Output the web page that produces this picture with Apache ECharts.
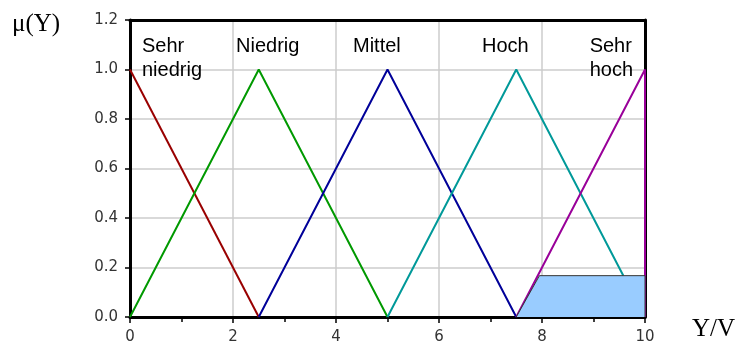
<!DOCTYPE html>
<html>
<head>
<meta charset="utf-8">
<script src="https://cdn.jsdelivr.net/npm/echarts@6/dist/echarts.min.js"></script>
<style>
  html, body { margin: 0; padding: 0; background: #fff; }
  #chart { width: 736px; height: 341px; }
</style>
</head>
<body>
<div id="chart"></div>
<script>
// Membership functions of the output variable Y (x in V, y = membership degree)
const sehrNiedrig = [[0, 1], [2.5, 0]];
const niedrig     = [[0, 0], [2.5, 1], [5, 0]];
const mittel      = [[2.5, 0], [5, 1], [7.5, 0]];
const hoch        = [[5, 0], [7.5, 1], [9.58, 0.167]];
const sehrHoch    = [[7.5, 0], [10, 1], [10, 0]];
// Clipped output area (activated "Sehr hoch" set)
const clipped     = [[7.5, 0], [7.95, 0.167], [10, 0.167], [10, 0]];

const setNames = ['Sehr\nniedrig', 'Niedrig', 'Mittel', 'Hoch', 'Sehr\nhoch'];
const xTicks = [0, 2, 4, 6, 8, 10];
const yTicks = [0, 0.2, 0.4, 0.6, 0.8, 1.0, 1.2];

const chart = echarts.init(document.getElementById('chart'));

function line(data, color) {
  return {
    type: 'line', data: data, symbol: 'none', silent: true,
    lineStyle: { color: color, width: 2 }, z: 3
  };
}

const tickFont = 'DejaVu Sans, Verdana, sans-serif';
const labelFont = { fontFamily: 'Liberation Sans, Arial, sans-serif', fontSize: 20, fill: '#000', lineHeight: 24 };
const frameAxis = { show: true, onZero: false, lineStyle: { color: '#000', width: 3 } };

chart.setOption({
  animation: false,
  grid: { left: 130, right: 91, top: 20, bottom: 24, outerBoundsMode: 'none', containLabel: false },
  xAxis: [{
    type: 'value', min: xTicks[0], max: xTicks[xTicks.length - 1], interval: 2,
    axisLine: frameAxis,
    axisTick: { show: true, length: 6, lineStyle: { color: '#000', width: 1.5 } },
    minorTick: { show: true, splitNumber: 2, length: 5, lineStyle: { color: '#000', width: 1.5 } },
    splitLine: { show: true, lineStyle: { color: '#cccccc', width: 1.5 } },
    axisLabel: { color: '#333', fontSize: 15, margin: 13, fontFamily: tickFont,
                 formatter: v => xTicks.includes(v) ? String(v) : '' }
  }, {
    type: 'value', position: 'top', min: 0, max: 10,
    axisLine: frameAxis, axisTick: { show: false }, axisLabel: { show: false }, splitLine: { show: false }
  }],
  yAxis: [{
    type: 'value', min: yTicks[0], max: yTicks[yTicks.length - 1], interval: 0.2,
    axisLine: frameAxis,
    axisTick: { show: true, length: 5, lineStyle: { color: '#000', width: 1.5 } },
    splitLine: { show: true, lineStyle: { color: '#cccccc', width: 1.5 } },
    axisLabel: { color: '#333', fontSize: 15, margin: 12, fontFamily: tickFont,
                 formatter: v => v.toFixed(1) }
  }, {
    type: 'value', position: 'right', min: 0, max: 1.2,
    axisLine: frameAxis, axisTick: { show: false }, axisLabel: { show: false }, splitLine: { show: false }
  }],
  series: [
    line(sehrNiedrig, '#990000'),
    line(niedrig, '#009900'),
    line(mittel, '#000099'),
    line(hoch, '#009999'),
    line(sehrHoch, '#990099'),
    {
      type: 'line', data: clipped, symbol: 'none', silent: true, z: 4,
      lineStyle: { color: '#333', width: 1 },
      areaStyle: { color: '#99ccff', opacity: 1, origin: 'start' }
    }
  ],
  graphic: [
    { type: 'text', z: 100, left: 12, top: 12, style: { text: 'μ(Y)', font: '25px "Liberation Serif", "Times New Roman", serif', fill: '#000' } },
    { type: 'text', z: 100, left: 692, top: 317, style: { text: 'Y/V', font: '25px "Liberation Serif", "Times New Roman", serif', fill: '#000' } },
    { type: 'text', z: 100, left: 142, top: 34, style: Object.assign({ text: setNames[0] }, labelFont) },
    { type: 'text', z: 100, left: 236, top: 34, style: Object.assign({ text: setNames[1] }, labelFont) },
    { type: 'text', z: 100, left: 353, top: 34, style: Object.assign({ text: setNames[2] }, labelFont) },
    { type: 'text', z: 100, left: 482, top: 34, style: Object.assign({ text: setNames[3] }, labelFont) },
    { type: 'text', z: 100, right: 103, top: 34, style: Object.assign({ text: setNames[4], align: 'right' }, labelFont) }
  ]
});
</script>
</body>
</html>
